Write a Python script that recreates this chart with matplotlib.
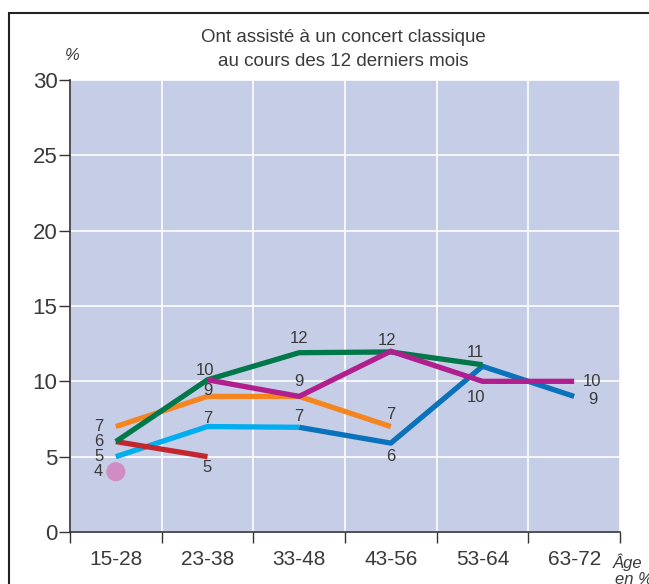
import numpy as np
import matplotlib.pyplot as plt
from matplotlib.patches import Rectangle

plt.rcParams['font.family'] = ['DejaVu Sans Condensed', 'Liberation Sans', 'DejaVu Sans']

ages = ["15-28", "23-38", "33-48", "43-56", "53-64", "63-72"]

# series: (x indices, values)
green_x = [0, 1, 2, 3, 4]
green_y = [6, 10.1, 11.9, 11.95, 11.1]
magenta_x = [1, 2, 3, 4, 5]
magenta_y = [10.1, 9.0, 12, 10, 10]
orange_x = [0, 1, 2, 3]
orange_y = [7, 9, 9, 7]
lightblue_x = [0, 1, 2]
lightblue_y = [5, 7, 6.95]
darkblue_x = [2, 3, 4, 5]
darkblue_y = [6.95, 5.9, 11, 9]
red_x = [0, 1]
red_y = [6, 5]
dot_x = [0]
dot_y = [4]

txtc = '#3a3a3a'

fig = plt.figure(figsize=(6.49, 5.84), dpi=100)
ax = fig.add_axes([70/649, 1-532/584, 550/649, 452/584])
ax.set_facecolor('#c6cde6')

xc = lambda xs: np.array(xs) + 0.5
lw = 3.8
ax.plot(xc(lightblue_x), lightblue_y, color='#00aeef', lw=lw, solid_capstyle='butt', zorder=3)
ax.plot(xc(darkblue_x), darkblue_y, color='#0a72ba', lw=lw, solid_capstyle='butt', zorder=3)
ax.plot(xc(orange_x), orange_y, color='#f5861f', lw=lw, solid_capstyle='butt', zorder=3)
ax.plot(xc(red_x), red_y, color='#c1272d', lw=lw, solid_capstyle='butt', zorder=3)
ax.plot(xc(green_x), green_y, color='#00784a', lw=lw, solid_capstyle='butt', zorder=4)
ax.plot(xc(magenta_x), magenta_y, color='#b01f8d', lw=lw, solid_capstyle='butt', zorder=5)
ax.scatter(xc(dot_x), dot_y, s=190, color='#cf8dc4', zorder=6, edgecolors='none')

ax.set_xlim(0, 6)
ax.set_ylim(0, 30)
ax.set_yticks(range(0, 31, 5))
ax.set_xticks(range(0, 7))
ax.set_xticklabels([])
ax.set_xticks(np.arange(6) + 0.5, minor=True)
ax.set_xticklabels(ages, minor=True)
ax.tick_params(axis='x', which='major', direction='out', length=8, width=1, color='#333333')
ax.tick_params(axis='x', which='minor', length=0, pad=13, labelsize=15, labelcolor=txtc)
ax.tick_params(axis='y', direction='out', length=8, width=1, color='#333333', pad=1,
               labelsize=16, labelcolor=txtc)
ax.grid(True, which='major', color='white', lw=1.2)
ax.set_axisbelow(True)
for s in ['top', 'right']:
    ax.spines[s].set_visible(False)
for s in ['left', 'bottom']:
    ax.spines[s].set_color('#333333')
    ax.spines[s].set_linewidth(1.2)

# data labels: (value, x index, y position, dx pts, dy pts, ha)
labels = [
    (7, 0, 7, -9, 0, 'right'), (6, 0, 6, -9, 0, 'right'), (5, 0, 5, -9, 0, 'right'), (4, 0, 4, -9, 0, 'right'),
    (10, 1, 10.1, -2, 7, 'center'), (9, 1, 9, 0, 4, 'center'), (7, 1, 7, 0, 6, 'center'), (5, 1, 5, 0, -8, 'center'),
    (12, 2, 11.9, 0, 10, 'center'), (9, 2, 9, 0, 11, 'center'), (7, 2, 6.95, 0, 7.5, 'center'),
    (12, 3, 12, -3, 8, 'center'), (7, 3, 7, 0, 9, 'center'), (6, 3, 5.9, 0, -10, 'center'),
    (11, 4, 11, -5, 10, 'center'), (10, 4, 10, -5, -12, 'center'),
    (10, 5, 10, 6, 0, 'left'), (9, 5, 9, 10, -2, 'left'),
]
for val, xi, yv, dx, dy, ha in labels:
    ax.annotate(str(val), (xi + 0.5, yv), xytext=(dx, dy), textcoords='offset points',
                ha=ha, va='center', fontsize=12, color=txtc, zorder=7)

fig.text(343/649, 1-37/584, "Ont assisté à un concert classique", ha='center', va='center',
         fontsize=13.5, color=txtc)
fig.text(343/649, 1-62/584, "au cours des 12 derniers mois", ha='center', va='center',
         fontsize=13.5, color=txtc)
fig.text(72/649, 1-55/584, "%", ha='center', va='center', fontsize=12, style='italic', color=txtc)
fig.text(613/649, 1-562/584, "Âge", ha='left', va='center', fontsize=12, style='italic', color=txtc)
fig.text(615/649, 1-580/584, "en %", ha='left', va='center', fontsize=12, style='italic', color=txtc)

fig.patches.append(Rectangle((9/649, -0.1), 1.2, 1.1 - 13/584, transform=fig.transFigure,
                             fill=False, edgecolor='#222222', lw=1.5))

fig.savefig("out.png", dpi=100)
